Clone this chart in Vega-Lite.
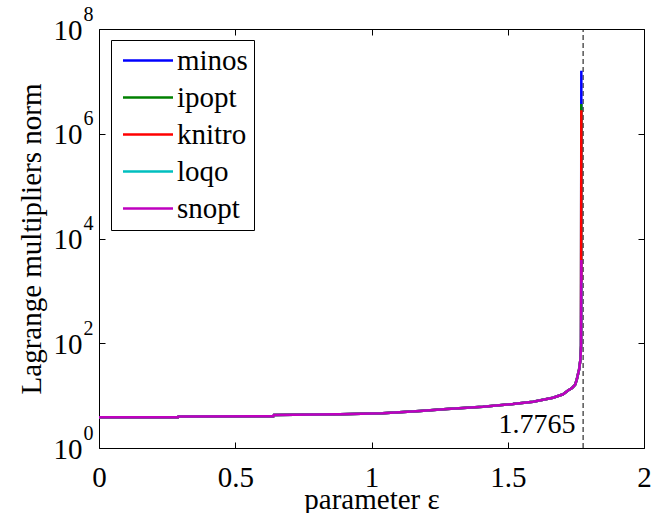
{
  "$schema": "https://vega.github.io/schema/vega-lite/v6.json",
  "width": 545,
  "height": 419,
  "autosize": "none",
  "padding": {"left": 99, "top": 29, "right": 23, "bottom": 65},
  "background": "white",
  "config": {
    "view": {"stroke": "black", "strokeWidth": 1},
    "font": "Liberation Serif, Times New Roman, serif",
    "axis": {"grid": false, "domain": false, "labelFont": "Liberation Serif, Times New Roman, serif", "titleFont": "Liberation Serif, Times New Roman, serif", "labelColor": "black", "titleColor": "black", "tickColor": "black", "titleFontWeight": "normal", "tickWidth": 1},
    "legend": {"labelFont": "Liberation Serif, Times New Roman, serif"},
    "text": {"font": "Liberation Serif, Times New Roman, serif"}
  },
  "datasets": {
    "curves": [
      {"series":"minos","eps":0,"norm":3.86},{"series":"minos","eps":0.29,"norm":3.88},{"series":"minos","eps":0.292,"norm":3.99},{"series":"minos","eps":0.64,"norm":4.05},{"series":"minos","eps":0.642,"norm":4.26},{"series":"minos","eps":0.87,"norm":4.4},{"series":"minos","eps":0.884,"norm":4.42},{"series":"minos","eps":1.04,"norm":4.59},{"series":"minos","eps":1.178,"norm":5.08},{"series":"minos","eps":1.277,"norm":5.55},{"series":"minos","eps":1.409,"norm":6.14},{"series":"minos","eps":1.519,"norm":6.91},{"series":"minos","eps":1.593,"norm":7.65},{"series":"minos","eps":1.666,"norm":9.12},{"series":"minos","eps":1.703,"norm":10.6},{"series":"minos","eps":1.721,"norm":12.5},{"series":"minos","eps":1.736,"norm":14.0},{"series":"minos","eps":1.747,"norm":16},{"series":"minos","eps":1.753,"norm":20},{"series":"minos","eps":1.762,"norm":32},{"series":"minos","eps":1.767,"norm":50},{"series":"minos","eps":1.769,"norm":90},{"series":"minos","eps":1.77,"norm":16000000},
      {"series":"ipopt","eps":0,"norm":3.86},{"series":"ipopt","eps":0.29,"norm":3.88},{"series":"ipopt","eps":0.292,"norm":3.99},{"series":"ipopt","eps":0.64,"norm":4.05},{"series":"ipopt","eps":0.642,"norm":4.26},{"series":"ipopt","eps":0.87,"norm":4.4},{"series":"ipopt","eps":0.884,"norm":4.42},{"series":"ipopt","eps":1.04,"norm":4.59},{"series":"ipopt","eps":1.178,"norm":5.08},{"series":"ipopt","eps":1.277,"norm":5.55},{"series":"ipopt","eps":1.409,"norm":6.14},{"series":"ipopt","eps":1.519,"norm":6.91},{"series":"ipopt","eps":1.593,"norm":7.65},{"series":"ipopt","eps":1.666,"norm":9.12},{"series":"ipopt","eps":1.703,"norm":10.6},{"series":"ipopt","eps":1.721,"norm":12.5},{"series":"ipopt","eps":1.736,"norm":14.0},{"series":"ipopt","eps":1.747,"norm":16},{"series":"ipopt","eps":1.753,"norm":20},{"series":"ipopt","eps":1.762,"norm":32},{"series":"ipopt","eps":1.767,"norm":50},{"series":"ipopt","eps":1.769,"norm":90},{"series":"ipopt","eps":1.77,"norm":3700000},
      {"series":"knitro","eps":0,"norm":3.86},{"series":"knitro","eps":0.29,"norm":3.88},{"series":"knitro","eps":0.292,"norm":3.99},{"series":"knitro","eps":0.64,"norm":4.05},{"series":"knitro","eps":0.642,"norm":4.26},{"series":"knitro","eps":0.87,"norm":4.4},{"series":"knitro","eps":0.884,"norm":4.42},{"series":"knitro","eps":1.04,"norm":4.59},{"series":"knitro","eps":1.178,"norm":5.08},{"series":"knitro","eps":1.277,"norm":5.55},{"series":"knitro","eps":1.409,"norm":6.14},{"series":"knitro","eps":1.519,"norm":6.91},{"series":"knitro","eps":1.593,"norm":7.65},{"series":"knitro","eps":1.666,"norm":9.12},{"series":"knitro","eps":1.703,"norm":10.6},{"series":"knitro","eps":1.721,"norm":12.5},{"series":"knitro","eps":1.736,"norm":14.0},{"series":"knitro","eps":1.747,"norm":16},{"series":"knitro","eps":1.753,"norm":20},{"series":"knitro","eps":1.762,"norm":32},{"series":"knitro","eps":1.767,"norm":50},{"series":"knitro","eps":1.769,"norm":90},{"series":"knitro","eps":1.77,"norm":2800000},
      {"series":"loqo","eps":0,"norm":3.86},{"series":"loqo","eps":0.29,"norm":3.88},{"series":"loqo","eps":0.292,"norm":3.99},{"series":"loqo","eps":0.64,"norm":4.05},{"series":"loqo","eps":0.642,"norm":4.26},{"series":"loqo","eps":0.87,"norm":4.4},{"series":"loqo","eps":0.884,"norm":4.42},{"series":"loqo","eps":1.04,"norm":4.59},{"series":"loqo","eps":1.178,"norm":5.08},{"series":"loqo","eps":1.277,"norm":5.55},{"series":"loqo","eps":1.409,"norm":6.14},{"series":"loqo","eps":1.519,"norm":6.91},{"series":"loqo","eps":1.593,"norm":7.65},{"series":"loqo","eps":1.666,"norm":9.12},{"series":"loqo","eps":1.703,"norm":10.6},{"series":"loqo","eps":1.721,"norm":12.5},{"series":"loqo","eps":1.736,"norm":14.0},{"series":"loqo","eps":1.747,"norm":16},{"series":"loqo","eps":1.753,"norm":20},{"series":"loqo","eps":1.762,"norm":32},{"series":"loqo","eps":1.767,"norm":50},{"series":"loqo","eps":1.769,"norm":90},{"series":"loqo","eps":1.77,"norm":1500},
      {"series":"snopt","eps":0,"norm":3.86},{"series":"snopt","eps":0.29,"norm":3.88},{"series":"snopt","eps":0.292,"norm":3.99},{"series":"snopt","eps":0.64,"norm":4.05},{"series":"snopt","eps":0.642,"norm":4.26},{"series":"snopt","eps":0.87,"norm":4.4},{"series":"snopt","eps":0.884,"norm":4.42},{"series":"snopt","eps":1.04,"norm":4.59},{"series":"snopt","eps":1.178,"norm":5.08},{"series":"snopt","eps":1.277,"norm":5.55},{"series":"snopt","eps":1.409,"norm":6.14},{"series":"snopt","eps":1.519,"norm":6.91},{"series":"snopt","eps":1.593,"norm":7.65},{"series":"snopt","eps":1.666,"norm":9.12},{"series":"snopt","eps":1.703,"norm":10.6},{"series":"snopt","eps":1.721,"norm":12.5},{"series":"snopt","eps":1.736,"norm":14.0},{"series":"snopt","eps":1.747,"norm":16},{"series":"snopt","eps":1.753,"norm":20},{"series":"snopt","eps":1.762,"norm":32},{"series":"snopt","eps":1.767,"norm":50},{"series":"snopt","eps":1.769,"norm":90},{"series":"snopt","eps":1.77,"norm":3900}
    ],
    "marker": [{"eps": 1.7765, "lo": 1, "hi": 100000000}],
    "note": [{"label": "1.7765", "eps": 1.749, "norm": 2.75}]
  },
  "layer": [
    {
      "data": {"name": "marker"},
      "mark": {"type": "rule", "color": "black", "strokeWidth": 1, "strokeDash": [5, 3]},
      "encoding": {
        "x": {"field": "eps", "type": "quantitative", "scale": {"domain": [0, 2]},
          "axis": {"orient": "top", "values": [0, 0.5, 1, 1.5, 2], "labels": false, "tickSize": -6, "title": null}},
        "y": {"field": "lo", "type": "quantitative", "scale": {"type": "log", "domain": [1, 100000000]},
          "axis": {"orient": "right", "values": [1, 100, 10000, 1000000, 100000000], "labels": false, "tickSize": -6, "title": null}},
        "y2": {"field": "hi"}
      }
    },
    {
      "data": {"name": "curves"},
      "mark": {"type": "line", "strokeWidth": 2.5, "clip": true},
      "encoding": {
        "x": {"field": "eps", "type": "quantitative", "scale": {"domain": [0, 2]},
          "axis": {"orient": "bottom", "values": [0, 0.5, 1, 1.5, 2], "labelExpr": "datum.value", "labelFlush": false, "labelFontSize": 29, "tickSize": -6, "labelPadding": 21, "title": "parameter ε", "titleFontSize": 29, "titlePadding": -7}},
        "y": {"field": "norm", "type": "quantitative", "scale": {"type": "log", "domain": [1, 100000000]},
          "axis": {"orient": "left", "values": [1, 100, 10000, 1000000, 100000000], "labelExpr": "'10'", "labelFontSize": 29, "tickSize": -6, "labelPadding": 23, "labelOffset": 1, "title": "Lagrange multipliers norm", "titleFontSize": 29, "titlePadding": 7}},
        "color": {"field": "series", "type": "nominal",
          "scale": {"domain": ["minos", "ipopt", "knitro", "loqo", "snopt"], "range": ["#0000FF", "#008000", "#FF0000", "#00BFBF", "#BF00BF"]},
          "legend": {"orient": "none", "legendX": 12, "legendY": 11, "title": null, "symbolType": "M-1,0H3", "symbolSize": 625, "symbolStrokeWidth": 2.5, "labelFont": "Liberation Serif, Times New Roman, serif", "labelFontSize": 29, "labelColor": "black", "labelOffset": 27, "rowPadding": 7, "padding": 6, "symbolOffset": 4, "strokeColor": "black", "fillColor": "white", "cornerRadius": 0}}
      }
    },
    {
      "data": {"name": "note"},
      "mark": {"type": "text", "align": "right", "baseline": "middle", "fontSize": 28, "font": "Liberation Serif, Times New Roman, serif", "color": "black"},
      "encoding": {
        "text": {"field": "label"},
        "x": {"field": "eps", "type": "quantitative", "axis": null},
        "y": {"field": "norm", "type": "quantitative",
          "axis": {"orient": "left", "values": [1, 100, 10000, 1000000, 100000000], "labelExpr": "format(log(datum.value)/LN10, '.0f')", "labelFontSize": 20, "ticks": false, "labelPadding": 6, "labelOffset": -15, "title": null}}
      }
    }
  ],
  "resolve": {"axis": {"x": "independent", "y": "independent"}}
}
